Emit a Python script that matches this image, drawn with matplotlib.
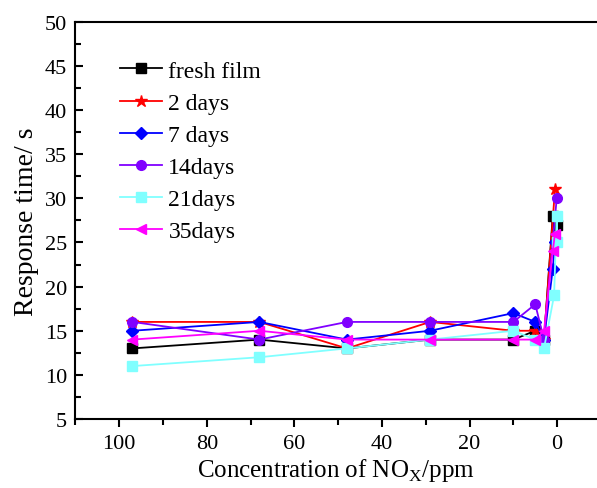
import numpy as np
import matplotlib
matplotlib.use("Agg")
import matplotlib.pyplot as plt
from matplotlib.ticker import MultipleLocator

plt.rcParams["font.family"] = ["Liberation Serif", "DejaVu Serif"]
plt.rcParams["mathtext.fontset"] = "custom"
plt.rcParams["mathtext.rm"] = "Liberation Serif"

# 浓度 (ppm) 与响应时间 (s)
x_fresh = [97, 68, 48, 29, 10, 5, 3, 1, 0.1]
y_fresh = [13, 14, 13, 14, 14, 15, 14, 28, 27]

x_2d = [97, 68, 48, 29, 10, 5, 3, 0.5]
y_2d = [16, 16, 13, 16, 15, 15, 14, 31]

x_7d = [97, 68, 48, 29, 10, 5, 3, 1, 0.5]
y_7d = [15, 16, 14, 15, 17, 16, 14, 22, 25]

x_14d = [97, 68, 48, 29, 10, 5, 3, 0.1]
y_14d = [16, 14, 16, 16, 16, 18, 14, 30]

x_21d = [97, 68, 48, 29, 10, 5, 3, 0.7, 0.1, 0]
y_21d = [11, 12, 13, 14, 15, 14, 13, 19, 28, 25]

x_35d = [97, 68, 48, 29, 10, 5, 3, 1, 0.5]
y_35d = [14, 15, 14, 14, 14, 14, 15, 24, 26]

series = [
    ("fresh film", x_fresh, y_fresh, "black", "s"),
    ("2 days", x_2d, y_2d, "#ff0000", "*"),
    ("7 days", x_7d, y_7d, "#0000ff", "D"),
    ("14days", x_14d, y_14d, "#8000ff", "o"),
    ("21days", x_21d, y_21d, "#80ffff", "s"),
    ("35days", x_35d, y_35d, "#ff00ff", "<"),
]

fig = plt.figure(figsize=(5.97, 4.89), dpi=100)
ax = fig.add_axes([0.1263, 0.141, 0.8737, 0.8125])

for label, xs, ys, color, mk in series:
    ms = 9 if mk == "*" else 7
    if mk == "D":
        ms = 6
    ax.plot(xs, ys, color=color, marker=mk, markersize=ms, linewidth=1.3, label=label)

ax.set_xlim(110, -9.1)
ax.set_ylim(5, 50)
ax.xaxis.set_major_locator(MultipleLocator(20))
ax.xaxis.set_minor_locator(MultipleLocator(10))
ax.yaxis.set_major_locator(MultipleLocator(5))
ax.yaxis.set_minor_locator(MultipleLocator(2.5))
ax.tick_params(axis="x", which="major", direction="out", length=6, width=1.5, labelsize=16, pad=5)
ax.tick_params(axis="x", which="minor", direction="out", length=4, width=1.5)
ax.tick_params(axis="y", which="major", direction="in", length=6, width=1.5, labelsize=16, pad=6)
ax.tick_params(axis="y", which="minor", direction="in", length=4, width=1.5)
ax.spines["right"].set_visible(False)
for s in ["left", "bottom", "top"]:
    ax.spines[s].set_linewidth(1.5)

ax.set_xlabel(r"Concentration of NO$_\mathrm{X}$/ppm", fontsize=18, labelpad=2)
ax.set_ylabel("Response time/ s", fontsize=20, labelpad=4)

ax.legend(loc="upper left", bbox_to_anchor=(0.201, 0.875), bbox_transform=fig.transFigure,
          frameon=False, fontsize=17, borderpad=0, borderaxespad=0,
          handlelength=1.8, handletextpad=0.25, labelspacing=0.45)

fig.savefig("out.png", dpi=100)
